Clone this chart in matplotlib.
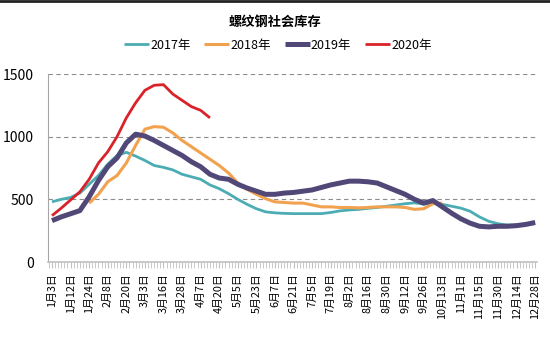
import numpy as np
import matplotlib
matplotlib.use("Agg")
import matplotlib.pyplot as plt
from matplotlib.lines import Line2D
from matplotlib.ticker import MultipleLocator

plt.rcParams['font.family'] = ['Noto Sans CJK SC', 'DejaVu Sans']

title = "螺纹钢社会库存"
tick_labels = ["1月3日", "1月12日", "1月24日", "2月8日", "2月20日", "3月3日", "3月16日",
               "3月28日", "4月7日", "4月20日", "5月5日", "5月23日", "6月7日", "6月21日",
               "7月5日", "7月19日", "8月2日", "8月16日", "8月30日", "9月12日", "9月26日",
               "10月13日", "11月1日", "11月15日", "11月30日", "12月14日", "12月28日"]

s2017 = [480, 500, 515, 550, 620, 690, 780, 850, 875, 845, 810, 770, 755, 735, 700, 680,
         660, 615, 585, 545, 500, 460, 425, 400, 392, 388, 386, 386, 386, 386, 395, 408,
         415, 420, 428, 435, 445, 455, 465, 472, 462, 470, 460, 445, 430, 405, 360, 325,
         305, 295, 295, 305, 318]
s2018 = [None, None, None, None, 470, 540, 640, 690, 790, 930, 1060, 1080, 1075, 1030, 970,
         920, 870, 820, 770, 710, 630, 580, 540, 505, 480, 475, 470, 470, 455, 440, 440,
         435, 435, 432, 435, 440, 440, 440, 435, 420, 425, 465, 470]
s2019 = [330, 360, 385, 410, 520, 650, 760, 830, 950, 1020, 1005, 970, 930, 890, 850, 800,
         760, 700, 670, 660, 620, 590, 565, 540, 540, 550, 555, 565, 575, 595, 615, 630,
         645, 645, 640, 630, 600, 570, 540, 500, 470, 490, 440, 390, 345, 310, 285, 280,
         285, 285, 290, 300, 315]
s2020 = [370, 430, 495, 560, 660, 790, 880, 1000, 1150, 1270, 1370, 1410, 1415, 1340, 1290,
         1240, 1210, 1150]

series = [("2017年", s2017, "#4bacb4", 2.0),
          ("2018年", s2018, "#f2a14f", 2.2),
          ("2019年", s2019, "#524878", 3.6),
          ("2020年", s2020, "#d9222a", 2.0)]

fig = plt.figure(figsize=(5.5, 3.56), dpi=100)
ax = fig.add_axes([48/550, 1-262/356, (537-48)/550, (262-74)/356])

for name, vals, color, lw in series:
    y = np.array([np.nan if v is None else v for v in vals], dtype=float)
    x = np.arange(len(y))
    ax.plot(x, y, color=color, lw=lw, label=name, solid_capstyle='butt', solid_joinstyle='round')

ax.set_ylim(0, 1500)
ax.set_xlim(-0.43, 52.2)
ax.set_yticks([0, 500, 1000, 1500])
ax.set_yticklabels(["0", "500", "1000", "1500"], fontsize=10)
ax.set_xticks(np.arange(0, 53, 2))
ax.set_xticklabels(tick_labels, rotation=90, fontsize=7.8)
ax.xaxis.set_minor_locator(MultipleLocator(1/3))
ax.tick_params(axis='x', which='both', length=4, color='#c0c0c0', pad=4, direction='out')
ax.tick_params(axis='y', length=0, pad=10)

for v in [500, 1000, 1500]:
    ax.axhline(v, color='#8c8c8c', lw=0.8, ls=(0, (4, 3)), zorder=0)

for sp in ['top', 'right']:
    ax.spines[sp].set_visible(False)
ax.spines['left'].set_color('#a6a6a6')
ax.spines['bottom'].set_color('#c0c0c0')
ax.spines['bottom'].set_linewidth(1.2)

fig.text(0.5, 1-22/356, title, ha='center', va='center', fontsize=9.5, fontweight='bold')
fig.legend(loc='center', bbox_to_anchor=(0.505, 1-45/356), ncol=4, frameon=False,
           fontsize=9, handlelength=2.0, handletextpad=0.1, columnspacing=1.1)

fig.add_artist(Line2D([0, 1], [0.997, 0.997], transform=fig.transFigure, color='#222222', lw=2))

fig.savefig("out.png", dpi=100)
